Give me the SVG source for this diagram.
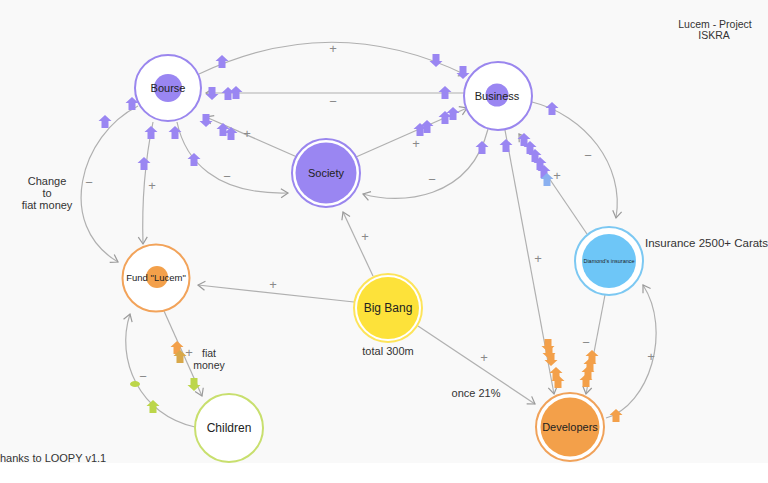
<svg xmlns="http://www.w3.org/2000/svg" xmlns:xlink="http://www.w3.org/1999/xlink" width="768" height="483" viewBox="0 0 768 483">
<style>
text{font-family:"Liberation Sans",Arial,sans-serif;fill:#333}
.lbl{text-anchor:middle;font-size:11px}
.nl{text-anchor:middle;font-size:11px;fill:#222}
.sg{text-anchor:middle;font-size:13px;fill:#8a8a8a}
.e{fill:none;stroke:#b0b0b0;stroke-width:1.2;marker-end:url(#ah)}
.p{fill:#9a86f2}
.b{fill:#8ab0f0}
.o{fill:#f3a04a}
.g{fill:#bcd64a}
</style>
<defs>
<marker id="ah" viewBox="-10 -6 12 12" refX="0" refY="0" markerWidth="12" markerHeight="12" markerUnits="userSpaceOnUse" orient="auto">
<path d="M-7,-4.5 L0,0 L-7,4.5" fill="none" stroke="#9a9a9a" stroke-width="1.2"/>
</marker>
<path id="up" d="M0,-7 L6.5,-1 L3.5,-1 L3.5,6 L-3.5,6 L-3.5,-1 L-6.5,-1Z"/>
<path id="dn" d="M0,7 L6.5,1 L3.5,1 L3.5,-6 L-3.5,-6 L-3.5,1 L-6.5,1Z"/>
</defs>
<rect x="0" y="0" width="768" height="463" fill="#f9f9f9"/>
<rect x="0" y="463" width="768" height="20" fill="#ffffff"/>

<g id="connectors">
<path class="e" d="M199,74 Q333,10 466,75"/>
<path class="e" d="M464,93 L206,93"/>
<path class="e" d="M297,157 L206,117"/>
<path class="e" d="M177,122 C185,160 215,195 288,193"/>
<path class="e" d="M153,122 Q141,180 143,244"/>
<path class="e" d="M138,106 C80,135 55,225 118,262"/>
<path class="e" d="M354,302 L198,285"/>
<path class="e" d="M373,276 L343,212"/>
<path class="e" d="M418,326 L535,404"/>
<path class="e" d="M356,157 L467,108"/>
<path class="e" d="M488,129 C470,200 400,205 363,194"/>
<path class="e" d="M505,130 L554,394"/>
<path class="e" d="M587,234 L519,134"/>
<path class="e" d="M532,102 C585,115 625,165 616,218"/>
<path class="e" d="M605,295 L586,394"/>
<path class="e" d="M606,418 C650,405 672,330 643,285"/>
<path class="e" d="M164,311 L202,396"/>
<path class="e" d="M195,427 C140,415 115,360 130,314"/>
</g>

<g id="edge-labels">
<text class="sg" x="333" y="53">+</text>
<text class="sg" x="333" y="106">−</text>
<text class="sg" x="247" y="138">+</text>
<text class="sg" x="227" y="181">−</text>
<text class="sg" x="152" y="190">+</text>
<text class="sg" x="89" y="187">−</text>
<text class="sg" x="273" y="289">+</text>
<text class="sg" x="365" y="241">+</text>
<text class="sg" x="484" y="362">+</text>
<text class="sg" x="416" y="148">+</text>
<text class="sg" x="432" y="184">−</text>
<text class="sg" x="538" y="263">+</text>
<text class="sg" x="557" y="180">+</text>
<text class="sg" x="588" y="160">−</text>
<text class="sg" x="586" y="347">−</text>
<text class="sg" x="651" y="361">+</text>
<text class="sg" x="189" y="357">+</text>
<text class="sg" x="143" y="381">−</text>
</g>

<g id="signals">
<use href="#up" class="p" x="222" y="62"/>
<use href="#dn" class="p" x="436" y="60"/>
<use href="#dn" class="p" x="463" y="72"/>
<use href="#dn" class="p" x="212" y="93"/>
<use href="#up" class="p" x="228" y="94"/>
<use href="#up" class="p" x="236" y="93"/>
<use href="#up" class="p" x="445" y="93"/>
<use href="#dn" class="p" x="206" y="120"/>
<use href="#up" class="p" x="223" y="130"/>
<use href="#up" class="p" x="231" y="134"/>
<use href="#up" class="p" x="132" y="104"/>
<use href="#up" class="p" x="105" y="122"/>
<use href="#up" class="p" x="151" y="133"/>
<use href="#up" class="p" x="175" y="133"/>
<use href="#up" class="p" x="144" y="164"/>
<use href="#up" class="p" x="194" y="160"/>
<use href="#up" class="p" x="420" y="130"/>
<use href="#up" class="p" x="427" y="127"/>
<use href="#up" class="p" x="445" y="118"/>
<use href="#up" class="p" x="453" y="114"/>
<use href="#up" class="p" x="482" y="148"/>
<use href="#up" class="p" x="506" y="146"/>
<use href="#up" class="p" x="524" y="140"/>
<use href="#up" class="p" x="530" y="148"/>
<use href="#up" class="p" x="535" y="156"/>
<use href="#up" class="p" x="540" y="164"/>
<use href="#up" class="p" x="544" y="172"/>
<use href="#up" class="b" x="547" y="180"/>
<use href="#up" class="p" x="552" y="109"/>
<use href="#dn" class="o" x="548" y="345"/>
<use href="#dn" class="o" x="549" y="352"/>
<use href="#dn" class="o" x="551" y="359"/>
<use href="#up" class="o" x="556" y="374"/>
<use href="#up" class="o" x="558" y="382"/>
<use href="#up" class="o" x="592" y="357"/>
<use href="#up" class="o" x="590" y="365"/>
<use href="#up" class="o" x="588" y="373"/>
<use href="#up" class="o" x="586" y="381"/>
<use href="#up" class="o" x="616" y="416"/>
<use href="#up" class="o" x="177" y="348"/>
<use href="#up" fill="#d8a84a" x="180" y="357"/>
<use href="#dn" class="g" x="194" y="384"/>
<ellipse class="g" cx="135" cy="384" rx="5" ry="3"/>
<use href="#up" class="g" x="153" y="407"/>
</g>

<g id="node-bourse">
<circle cx="168" cy="88" r="33" fill="#fff" stroke="#9a86ee" stroke-width="2"/>
<circle cx="168" cy="88" r="14" fill="#9a86f2"/>
<text class="nl" x="168" y="92">Bourse</text>
</g>
<g id="node-business">
<circle cx="498" cy="96" r="34" fill="#fff" stroke="#9a86ee" stroke-width="2"/>
<circle cx="497" cy="95" r="11.5" fill="#9a86f2"/>
<text class="nl" x="497" y="100">Business</text>
</g>
<g id="node-society">
<circle cx="326" cy="173" r="34" fill="#fff" stroke="#9a86ee" stroke-width="2"/>
<circle cx="326" cy="173" r="30.5" fill="#9a86f2"/>
<text class="nl" x="326" y="177">Society</text>
</g>
<g id="node-fund">
<circle cx="156" cy="278" r="33.5" fill="#fff" stroke="#f2a35a" stroke-width="2"/>
<circle cx="157" cy="277" r="11" fill="#f3a04a"/>
<text class="nl" x="156" y="281" style="font-size:9.5px">Fund "Lucem"</text>
</g>
<g id="node-bigbang">
<circle cx="388" cy="308" r="34" fill="#fff" stroke="#fde45a" stroke-width="2"/>
<circle cx="388" cy="308" r="31" fill="#fde23a"/>
<text class="nl" x="388" y="312" style="font-size:12px">Big Bang</text>
<text class="lbl" x="388" y="355">total 300m</text>
</g>
<g id="node-diamond">
<circle cx="609" cy="261" r="34" fill="#fff" stroke="#7cc8f2" stroke-width="2"/>
<circle cx="609" cy="261" r="27" fill="#6ec6f7"/>
<text class="nl" x="609" y="262.5" style="font-size:5.5px">Diamond's insurance</text>
<text x="645" y="247" style="font-size:11.5px">Insurance 2500+ Carats</text>
</g>
<g id="node-developers">
<circle cx="570" cy="427" r="34" fill="#fff" stroke="#f0a25a" stroke-width="2"/>
<circle cx="570" cy="427" r="29.5" fill="#f3a04a"/>
<text class="nl" x="570" y="431">Developers</text>
</g>
<g id="node-children">
<circle cx="229" cy="428" r="34" fill="#fff" stroke="#c8df6e" stroke-width="2"/>
<text class="nl" x="229" y="432" style="font-size:12px">Children</text>
</g>

<g id="texts">
<text class="lbl" x="715" y="28" style="font-size:10.5px">Lucem - Project</text>
<text class="lbl" x="714" y="39" style="font-size:10.5px">ISKRA</text>
<text class="lbl" x="47" y="185">Change</text>
<text class="lbl" x="47" y="197">to</text>
<text class="lbl" x="47" y="209">fiat money</text>
<text class="lbl" x="209" y="357" style="font-size:10.5px">fiat</text>
<text class="lbl" x="209" y="369" style="font-size:10.5px">money</text>
<text class="lbl" x="476" y="397">once 21%</text>
<text x="0" y="462" style="font-size:11px">hanks to LOOPY v1.1</text>
</g>
</svg>
